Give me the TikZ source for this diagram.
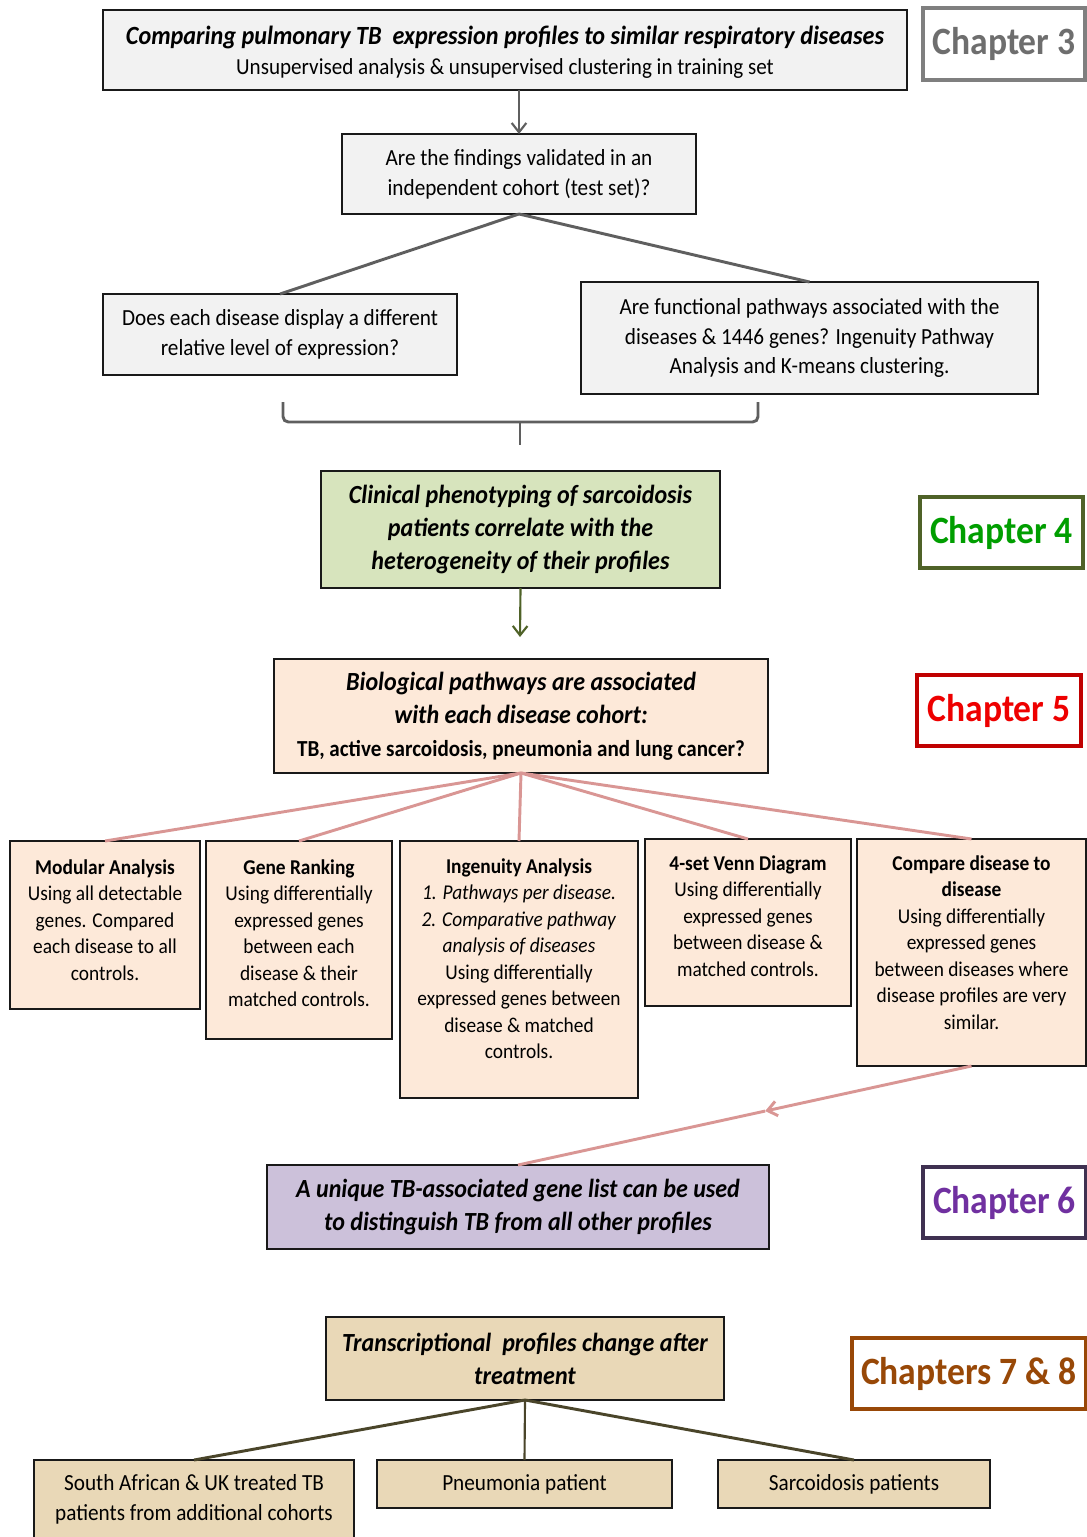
\documentclass[tikz,border=0pt]{standalone}
\usepackage{fontspec}
\setmainfont{Carlito}[FakeStretch=0.92]
\usetikzlibrary{arrows.meta,calc}

\definecolor{grayfill}{HTML}{F2F2F2}
\definecolor{grayline}{HTML}{5F5F5F}
\definecolor{chthree}{HTML}{7F7F7F}
\definecolor{chthreetext}{HTML}{6E6E6E}
\definecolor{greenfill}{HTML}{D7E4BD}
\definecolor{olive}{HTML}{4F6228}
\definecolor{chfourtext}{HTML}{009E00}
\definecolor{peach}{HTML}{FDE9D9}
\definecolor{chfive}{HTML}{C00000}
\definecolor{chfivetext}{HTML}{EE0000}
\definecolor{pink}{HTML}{D99694}
\definecolor{purplefill}{HTML}{CCC1DA}
\definecolor{chsix}{HTML}{3F3151}
\definecolor{chsixtext}{HTML}{7030A0}
\definecolor{tanfill}{HTML}{E9D8B7}
\definecolor{chseven}{HTML}{984807}
\definecolor{darkolive}{HTML}{4A452A}

\begin{document}
\begin{tikzpicture}[x=0.75pt,y=-0.75pt,
  box/.style={draw=black!90, line width=1.4pt, inner sep=0pt, outer sep=0pt, align=center},
  size/.style 2 args={minimum width=#1, minimum height=#2},
  chap/.style={draw, line width=2.4pt, fill=white, inner sep=0pt, outer sep=0pt,
    font=\fontsize{29}{31}\selectfont\bfseries},
  body/.style={font=\fontsize{15.8}{19.9}\selectfont},
  qbody/.style={font=\fontsize{17.3}{22.4}\selectfont},
  title/.style={font=\fontsize{19.6}{24.7}\selectfont\bfseries\itshape},
  txt/.style={align=center, inner sep=0pt, anchor=north},
  openhead/.style={-{Straight Barb[length=7pt,width=11pt]}},
  greyconn/.style={draw=grayline, line width=2.2pt},
  pinkconn/.style={draw=pink, line width=2.2pt},
  oliveconn/.style={draw=darkolive, line width=2.2pt}
]
\useasboundingbox (0,0) rectangle (1087,1537);

% ---- Chapter 3 ----
\node[box, fill=grayfill, size={603pt}{60pt}] (top) at (505,50) {};
\node[txt] (topt) at ($(top.north)+(0,16)$)
  {{\fontsize{19.7}{24}\selectfont\bfseries\itshape Comparing pulmonary TB\ \ expression profiles to similar respiratory diseases}\\[6pt]
   {\fontsize{17.2}{21}\selectfont Unsupervised analysis \& unsupervised clustering in training set}};
\node[chap, draw=chthree, text=chthreetext, size={121.5pt}{54pt}] (ch3) at (1004,44) {Chapter 3};

\node[box, fill=grayfill, size={265.5pt}{60pt}, qbody] (q) at (519,174)
  {Are the findings validated in an\\ independent cohort (test set)?};
\node[box, fill=grayfill, size={265.5pt}{60.75pt}, qbody] (lvl) at (280,334.5)
  {Does each disease display a different\\ relative level of expression?};
\node[box, fill=grayfill, size={342.75pt}{84pt}, qbody] (path) at (809.5,338)
  {Are functional pathways associated with the\\ diseases \& 1446 genes? Ingenuity Pathway\\ Analysis and K-means clustering.};

\draw[greyconn, line width=1.6pt, openhead] (top.south -| q.north) -- (q.north);
\draw[greyconn] (q.south) -- (lvl.north);
\draw[greyconn] (q.south) -- (path.north);

% bracket joining the two questions
\draw[greyconn, rounded corners=4pt] (283,402) -- (283,422) -- (758,422) -- (758,402);
\draw[greyconn] (520,422) -- (520,445);

% ---- Chapter 4 ----
\node[box, fill=greenfill, size={299.25pt}{87.75pt}, title] (clin) at (520.5,529.5)
  {Clinical phenotyping of sarcoidosis\\ patients correlate with the\\ heterogeneity of their profiles};
\node[chap, draw=olive, text=chfourtext, size={122.25pt}{53.25pt}] (ch4) at (1001.5,532.5) {Chapter 4};
\coordinate (clinend) at (520,637);
\draw[draw=olive, line width=1.6pt, openhead] (clin.south) -- (clinend);

% ---- Chapter 5 ----
\node[box, fill=peach, size={370.5pt}{85.5pt}, title] (bio) at (521,716)
  {Biological pathways are associated\\ with each disease cohort:\\
   {\fontsize{17.2}{19}\selectfont\upshape\bfseries TB, active sarcoidosis, pneumonia and lung cancer?}};
\node[chap, draw=chfive, text=chfivetext, size={123pt}{53.25pt}] (ch5) at (999,710.5) {Chapter 5};

\node[box, fill=peach, size={142.5pt}{126pt}] (mod) at (105,925) {};
\node[box, fill=peach, size={139.5pt}{148.5pt}] (gene) at (299,940) {};
\node[box, fill=peach, size={178.5pt}{192.75pt}] (ing) at (519,969.5) {};
\node[box, fill=peach, size={154.5pt}{125.25pt}] (venn) at (748,922.5) {};
\node[box, fill=peach, size={171.75pt}{170.25pt}] (cmp) at (971.5,952.5) {};

\node[txt, body] (modt) at ($(mod.north)+(0,18)$)
  {\textbf{Modular Analysis}\\ Using all detectable\\ genes. Compared\\ each disease to all\\ controls.};
\node[txt, body] (genet) at ($(gene.north)+(0,18)$)
  {\textbf{Gene Ranking}\\ Using differentially\\ expressed genes\\ between each\\ disease \& their\\ matched controls.};
\node[txt, body] (ingt) at ($(ing.north)+(0,17)$)
  {\textbf{Ingenuity Analysis}\\ \textit{1. Pathways per disease.}\\ \textit{2. Comparative pathway}\\
   \textit{analysis of diseases}\\ Using differentially\\ expressed genes between\\ disease \& matched\\ controls.};
\node[txt, body] (vennt) at ($(venn.north)+(0,16)$)
  {\textbf{4-set Venn Diagram}\\ Using differentially\\ expressed genes\\ between disease \&\\ matched controls.};
\node[txt, body] (cmpt) at ($(cmp.north)+(0,16)$)
  {\textbf{Compare disease to}\\ \textbf{disease}\\ Using differentially\\ expressed genes\\
   between diseases where\\ disease profiles are very\\ similar.};

\foreach \b in {mod,gene,ing,venn,cmp}
  \draw[pinkconn] (bio.south) -- (\b.north);

% ---- Chapter 6 ----
\node[box, fill=purplefill, size={376.5pt}{63pt}, title] (tb) at (518,1207)
  {A unique TB-associated gene list can be used\\ to distinguish TB from all other profiles};
\node[chap, draw=chsix, text=chsixtext, size={122.25pt}{53.25pt}] (ch6) at (1004.5,1202.5) {Chapter 6};

\coordinate (mid) at ($(cmp.south)!0.455!(tb.north)$);
\draw[pinkconn, openhead] (cmp.south) -- (mid);
\draw[pinkconn] (mid) -- (tb.north);

% ---- Chapters 7 & 8 ----
\node[box, fill=tanfill, size={298.5pt}{62.25pt}, title] (treat) at (525,1358.5)
  {Transcriptional\ \ profiles change after\\ treatment};
\node[chap, draw=chseven, text=chseven, size={175.5pt}{53.25pt}] (ch78) at (969,1373.5) {Chapters 7 \& 8};

\node[box, fill=tanfill, size={240pt}{63.75pt}] (sa) at (194,1502.5) {};
\node[txt, qbody] (sat) at ($(sa.north)+(0,14)$)
  {South African \& UK treated TB\\ patients from additional cohorts};
\node[box, fill=tanfill, size={221.25pt}{36pt}, qbody] (pn) at (524.5,1484) {Pneumonia patient};
\node[box, fill=tanfill, size={204pt}{36pt}, qbody] (sar) at (854,1484) {Sarcoidosis patients};

\draw[oliveconn] (treat.south) -- (sa.north);
\draw[oliveconn, line width=1.6pt] (treat.south) -- (pn.north);
\draw[oliveconn] (treat.south) -- (sar.north);
\end{tikzpicture}
\end{document}
